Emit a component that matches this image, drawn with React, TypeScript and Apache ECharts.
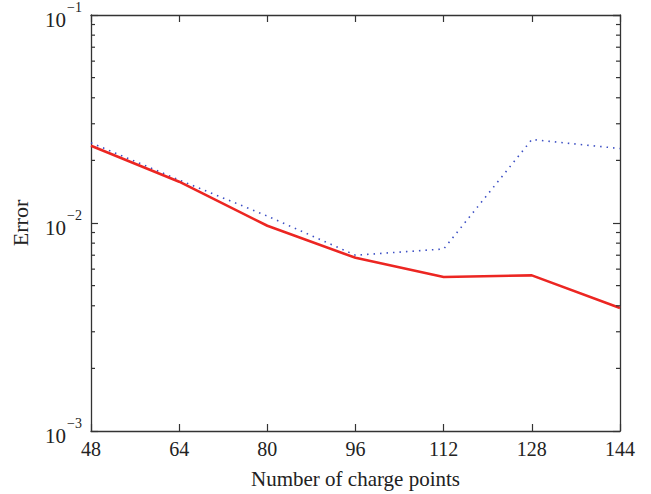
import React, { useEffect, useRef } from "react";
import * as echarts from "echarts";

const xValues = [48, 64, 80, 96, 112, 128, 144];
const xTicks = [48, 64, 80, 96, 112, 128, 144];
const solidRed = [0.0235, 0.0158, 0.0097, 0.0068, 0.0055, 0.0056, 0.0039];
const dottedBlue = [0.0243, 0.0161, 0.0108, 0.0070, 0.0075, 0.0252, 0.0228];
const yMajor = [0.001, 0.01, 0.1];
const minorTickValues = [
  0.002, 0.003, 0.004, 0.005, 0.006, 0.007, 0.008, 0.009,
  0.02, 0.03, 0.04, 0.05, 0.06, 0.07, 0.08, 0.09,
];

const FONT = "'Liberation Serif', 'DejaVu Serif', serif";
const AXIS_COLOR = "#333";

export default function App() {
  const ref = useRef<HTMLDivElement>(null);
  useEffect(() => {
    if (!ref.current) return;
    const chart = echarts.init(ref.current, undefined, { renderer: "svg" });
    const axisLine = { show: true, lineStyle: { color: AXIS_COLOR, width: 1.3 } };
    const supLabel = (v: number) => {
      const e = Math.round(Math.log10(v));
      return `{b|10}{s|\u2212${-e}}`;
    };
    chart.setOption({
      animation: false,
      backgroundColor: "#fff",
      textStyle: { fontFamily: FONT },
      grid: { left: 91, right: 31, top: 14, bottom: 63 },
      xAxis: [
        {
          type: "value",
          min: 48,
          max: 144,
          interval: 16,
          position: "bottom",
          axisLine,
          axisTick: { show: true, inside: true, length: 7, lineStyle: { color: AXIS_COLOR, width: 1.2 } },
          splitLine: { show: false },
          axisLabel: {
            show: true,
            margin: 8,
            fontSize: 20,
            color: "#222",
            fontFamily: FONT,
            formatter: (v: number) => (xTicks.includes(v) ? String(v) : ""),
          },
          name: "Number of charge points",
          nameLocation: "middle",
          nameGap: 37,
          nameTextStyle: { fontSize: 21, color: "#222", fontFamily: FONT },
        },
        {
          type: "value",
          min: 48,
          max: 144,
          interval: 16,
          position: "top",
          axisLine,
          axisTick: { show: true, inside: true, length: 7, lineStyle: { color: AXIS_COLOR, width: 1.2 } },
          splitLine: { show: false },
          axisLabel: { show: false },
        },
      ],
      yAxis: [
        {
          type: "log",
          logBase: 10,
          min: 0.001,
          max: 0.1,
          position: "left",
          axisLine,
          axisTick: { show: true, inside: true, length: 7, lineStyle: { color: AXIS_COLOR, width: 1.2 } },
          splitLine: { show: false },
          axisLabel: {
            show: true,
            margin: 9,
            color: "#222",
            fontFamily: FONT,
            formatter: (v: number) => (yMajor.some((m) => Math.abs(m - v) / m < 1e-6) ? supLabel(v) : ""),
            rich: {
              b: { fontSize: 21, fontFamily: FONT, color: "#222", padding: [10, 0, 0, 0] },
              s: { fontSize: 14, fontFamily: FONT, color: "#222", padding: [0, 0, 16, 1] },
            },
          },
          name: "Error",
          nameLocation: "middle",
          nameGap: 60,
          nameTextStyle: { fontSize: 22, color: "#222", fontFamily: FONT },
        },
        {
          type: "log",
          logBase: 10,
          min: 0.001,
          max: 0.1,
          position: "right",
          axisLine,
          axisTick: { show: true, inside: true, length: 7, lineStyle: { color: AXIS_COLOR, width: 1.2 } },
          splitLine: { show: false },
          axisLabel: { show: false },
        },
      ],
      series: [
        {
          type: "line",
          data: xValues.map((x, i) => [x, dottedBlue[i]]),
          showSymbol: false,
          symbol: "none",
          lineStyle: { color: "#3c4fc4", width: 1.6, type: [1.5, 5] },
          z: 3,
        },
        {
          type: "line",
          data: xValues.map((x, i) => [x, solidRed[i]]),
          showSymbol: false,
          symbol: "none",
          lineStyle: { color: "#ec2622", width: 2.6 },
          z: 4,
        },
        {
          type: "custom",
          silent: true,
          z: 6,
          encode: { x: 0, y: 1 },
          data: minorTickValues.map((v) => [48, v]),
          renderItem: (_p: any, api: any) => {
            const v = api.value(1);
            const pL = api.coord([48, v]);
            const pR = api.coord([144, v]);
            return {
              type: "group",
              children: [
                { type: "line", shape: { x1: pL[0], y1: pL[1], x2: pL[0] + 4, y2: pL[1] }, style: { stroke: AXIS_COLOR, lineWidth: 1.2 } },
                { type: "line", shape: { x1: pR[0], y1: pR[1], x2: pR[0] - 4, y2: pR[1] }, style: { stroke: AXIS_COLOR, lineWidth: 1.2 } },
              ],
            };
          },
        },
      ],
    });
    return () => chart.dispose();
  }, []);
  return (
    <div
      ref={ref}
      style={{ position: "fixed", left: 0, top: 0, width: 651, height: 494, background: "#fff" }}
    />
  );
}
